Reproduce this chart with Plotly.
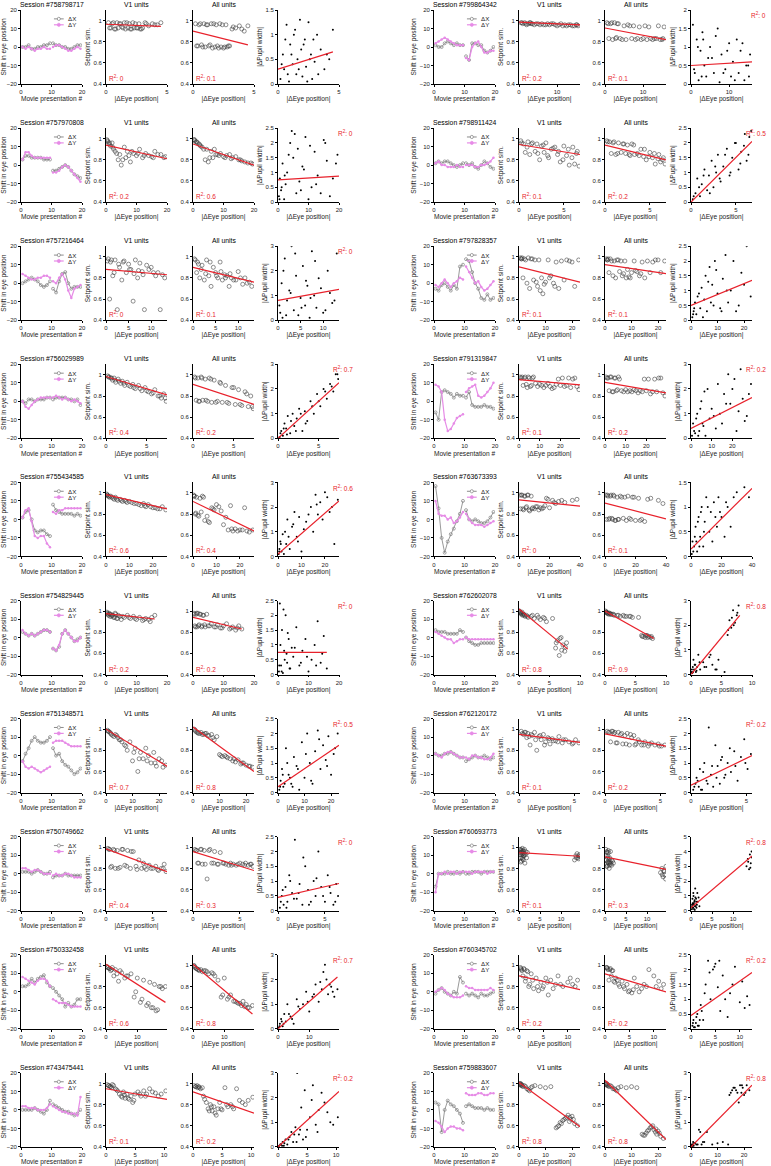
import plotly.graph_objects as go

W, H = 771, 1166

# セッション（左列 10 個 → 右列 10 個）
SESSIONS = [
    "758798717", "757970808", "757216464", "756029989", "755434585",
    "754829445", "751348571", "750749662", "750332458", "743475441",
    "799864342", "798911424", "797828357", "791319847", "763673393",
    "762602078", "762120172", "760693773", "760345702", "759883607",
]

# 眼球位置のシフト（2 ブロック × 10 提示）
EYE_T = [0.5, 1.5, 2.5, 3.5, 4.5, 5.5, 6.5, 7.5, 8.5, 9.5,
         10.5, 11.5, 12.5, 13.5, 14.5, 15.5, 16.5, 17.5, 18.5, 19.5]
EYE_DX = [
    [0, 0, 1, -1, -1, 0, 0, 1, 1, 2, 2, 1, 1, 0, 0, -1, -1, 0, 1, 1],
    [3, 5, 5, 4, 4, 4, 4, 3, 3, 3, -3, -3, -2, -1, 0, -1, -3, -5, -6, -7],
    [0, 1, 2, 3, 2, 1, -1, -2, -1, 1, -3, -5, 1, 5, 6, 0, -3, -2, -2, -2],
    [0, -1, 1, 1, 0, 1, 1, 1, 2, 2, 1, 2, 2, 2, 2, 1, 1, 0, 1, -2],
    [1, 4, 5, 0, -6, -7, -6, -6, -8, -9, 8, 5, 4, 3, 3, 3, 3, 2, 3, 2],
    [3, 2, 1, 2, 1, 2, 3, 4, 4, 3, -6, -7, -5, 2, 4, 2, 0, -2, -1, 0],
    [-3, 1, 4, 8, 10, 8, 7, 7, 8, 10, 4, 0, 1, -3, -5, -6, -8, -10, -9, -7],
    [1, 1, 1, 0, 1, 2, 1, 0, 0, 1, -2, -1, -1, -1, 0, -1, -1, -1, -1, -1],
    [3, 3, 4, 7, 5, 7, 8, 9, 5, 3, 2, 0, -2, -4, -8, -6, -8, -7, -4, -4],
    [0, 0, 0, 0, 1, 0, -1, -2, 0, 5, 3, 2, 1, 0, -1, -1, -2, -3, -2, 0],
    [1, 0, 0, 2, 3, 2, 1, 2, 1, 1, -5, -7, 2, 2, 1, 1, -2, -3, -2, 0],
    [1, 2, 1, 2, 2, 1, 0, -1, 0, 1, 1, 0, 1, -1, -2, 0, 2, 1, -1, -2],
    [-3, -4, -1, 0, -2, -4, -1, -3, 9, 10, 13, 12, 6, 0, -3, -8, -9, -6, -9, -8],
    [-6, -10, 5, 6, 5, 4, 2, 4, 3, 3, 2, 5, -2, -3, -3, -3, -2, -3, -3, -4],
    [18, 6, -10, -18, -12, -8, -5, -1, 3, 10, 5, 0, -1, 0, -1, -2, -2, -1, 1, 4],
    [4, 3, 3, 3, 2, 2, 2, 2, 4, 3, 0, -2, -3, -4, -4, -3, -3, -3, -3, -3],
    [1, 0, 0, 1, 1, 2, 1, 0, -1, -1, -3, -2, -1, 0, -1, -1, 0, -1, -2, -1],
    [-7, 0, 0, 0, 1, 0, 0, 1, 0, 1, 0, 0, 1, 1, 1, 0, 1, 1, 1, 1],
    [-1, 1, 2, 0, -1, -2, 0, -1, 8, 5, -1, -2, -1, -2, -3, -1, -2, -2, -1, 0],
    [4, 3, -12, 0, 5, 3, 2, 0, -2, -7, 2, 3, 2, 1, 1, 1, 0, 1, 0, 0],
]
EYE_DY = [
    [0, -1, 0, -1, -2, -1, -1, 0, -1, -1, 0, 1, 1, 0, -1, -2, -2, -1, 0, -1],
    [3, 7, 7, 5, 4, 4, 4, 4, 4, 4, -4, -4, -3, -1, 0, -1, -3, -5, -7, -9],
    [5, 4, 3, 2, 2, 3, 3, 4, 4, 3, 1, 0, 3, 5, 2, -4, -8, -3, -2, -1],
    [0, -3, -4, -2, 0, 1, 2, 2, 2, 2, 2, 3, 2, 1, 2, 1, 0, 1, 0, -1],
    [1, 5, 6, -1, -9, -10, -9, -9, -13, -15, 4, 3, 5, 5, 6, 6, 6, 6, 6, 6],
    [4, 2, 1, 2, 1, 2, 3, 4, 4, 3, -6, -7, -4, 2, 4, 2, 0, -2, -2, 0],
    [-3, -6, -7, -6, -7, -8, -9, -8, -7, -6, 7, 8, 8, 8, 7, 6, 5, 5, 5, 5],
    [3, 3, 2, 1, 2, 2, 1, 0, 0, 0, -1, 0, -1, -1, 0, 0, -1, -2, -2, -2],
    [8, 7, 6, 5, 4, 6, 7, 7, 6, 3, -4, -5, -6, -6, -6, -7, -8, -8, -8, -8],
    [2, 2, 1, 1, 1, 0, 0, 0, 1, 3, 2, 1, 0, -1, -1, -2, -2, -2, -3, 7],
    [2, 3, 4, 5, 4, 3, 2, 1, 1, 1, -6, -7, 0, 2, 3, 0, -3, -3, -2, -2],
    [1, 2, 0, 0, -1, -1, -1, 0, -1, -1, 0, 0, 0, -1, -1, 0, 0, 1, 2, 4],
    [-1, -2, 0, 2, 0, -2, 0, 1, 3, 2, 9, 6, 3, 0, 1, -2, -4, -3, -1, 1],
    [9, 8, 5, -10, -16, -15, -12, -9, -8, -7, 5, 7, 8, 9, 3, 2, 3, 5, 7, 10],
    [10, 3, 2, 2, 0, 1, -2, -1, 1, 4, 3, 0, -2, -3, -3, -3, -4, -3, -2, -1],
    [3, 2, 1, 0, -1, -1, -3, -2, -1, -1, 0, -1, -1, -1, -1, -1, -1, -1, -1, -1],
    [1, 0, -1, 1, 2, 2, 1, 0, -1, -1, -1, -2, 0, 0, -1, -1, -2, -2, -1, 1],
    [-10, 0, 0, 1, 0, 1, 1, 0, 1, 1, 1, 1, 0, 1, 1, 1, 1, 0, 1, 1],
    [0, 1, 2, 1, -1, -2, -3, -3, -3, -2, 3, 2, 2, 1, 1, 1, 1, 1, 2, 1],
    [-6, -7, -9, -12, -10, -9, -9, -10, -10, -11, 9, 8, 8, 8, 9, 9, 8, 8, 9, 9],
]

# |ΔEye position|（3 つの散布図で共通）
DEYE = [
    [0.2, 0.4, 0.5, 0.7, 0.9, 1.0, 1.2, 1.3, 1.5, 1.6, 1.8, 1.9, 2.0, 2.2, 2.3, 2.5, 2.7, 2.8, 3.0, 3.2, 3.5, 3.8, 4.2, 4.5,
     0.3, 0.6, 0.8, 1.1, 1.4, 1.7, 2.1, 2.4, 2.6, 2.9, 3.3, 4.0],
    [0.3, 0.6, 1, 1.5, 2, 2.5, 3, 4, 4.5, 5, 6, 6.5, 7, 8, 9, 10, 11, 12, 13, 14, 15, 16, 18, 19.5,
     0.5, 1.2, 2.2, 3.5, 5.5, 7.5, 8.5, 10.5, 12.5, 15.5, 17, 19],
    [0.5, 0.8, 1, 1.5, 2, 2.5, 3, 3.5, 4, 4.5, 5, 5.5, 6, 6.5, 7, 7.5, 8, 8.5, 9, 10, 11, 11.5, 12, 13,
     0.3, 1.2, 1.8, 2.8, 3.8, 5.2, 6.2, 7.2, 8.2, 9.5, 10.5, 12.5],
    [0.2, 0.4, 0.6, 0.8, 1, 1.2, 1.5, 1.8, 2, 2.3, 2.6, 3, 3.3, 3.6, 4, 4.4, 4.8, 5.2, 5.6, 6, 6.4, 6.8, 7.1, 7.4,
     0.3, 0.7, 1.1, 1.6, 2.2, 2.8, 3.4, 4.2, 5, 5.8, 6.6, 7.3],
    [0.3, 0.6, 1, 1.5, 2, 3, 3.5, 4, 5, 6, 7, 8, 9, 10, 12, 14, 15, 16, 17, 18, 20, 22, 24, 25.5,
     0.5, 1.2, 2.5, 4.5, 6.5, 8.5, 11, 13, 16.5, 19, 21, 23],
    [0.3, 0.6, 1, 1.3, 1.6, 2, 2.5, 3, 3.5, 4, 4.5, 5, 6, 7, 8, 9, 10, 11, 12, 13, 14, 14.5, 15, 16,
     0.4, 0.8, 1.2, 1.8, 2.2, 2.8, 3.2, 3.8, 5.5, 7.5, 9.5, 12.5],
    [0.5, 1, 1.5, 2, 3, 4, 5, 6, 7, 8, 9, 10, 11, 12, 13, 14, 15, 16, 17, 18, 19, 20, 21, 22.5,
     0.8, 1.8, 2.5, 3.5, 4.5, 5.5, 7.5, 10.5, 12.5, 15.5, 18.5, 21.5],
    [0.2, 0.4, 0.6, 0.8, 1, 1.2, 1.5, 1.8, 2, 2.3, 2.6, 2.9, 3.2, 3.5, 3.8, 4, 4.3, 4.6, 5, 5.3, 5.6, 5.9, 6.2, 6.4,
     0.3, 0.5, 0.9, 1.3, 1.7, 2.2, 2.7, 3.3, 4.1, 4.8, 5.5, 6.1],
    [0.3, 0.6, 1, 1.5, 2, 2.5, 3, 4, 5, 6, 7, 8, 9, 10, 11, 12, 13, 14, 15, 15.5, 16, 17, 18, 19,
     0.5, 1.2, 1.8, 3.5, 4.5, 6.5, 9.5, 11.5, 13.5, 14.5, 16.5, 17.5],
    [0.2, 0.5, 0.8, 1, 1.3, 1.6, 2, 2.3, 2.6, 3, 3.3, 3.6, 4, 4.3, 4.6, 5, 5.5, 6, 6.5, 7, 7.5, 8, 9, 10.3,
     0.4, 0.7, 1.1, 1.8, 2.8, 3.2, 3.8, 4.8, 5.8, 6.8, 8.5, 9.5],
    [0.5, 1, 1.5, 2, 2.5, 3, 3.5, 4, 5, 5.5, 6, 7, 7.5, 8, 9, 10, 10.5, 11, 12, 12.5, 13, 14, 15, 15.5,
     0.8, 1.8, 2.8, 4.5, 6.5, 8.5, 9.5, 11.5, 13.5, 14.5, 15.2, 3.2],
    [0.2, 0.5, 0.7, 1, 1.2, 1.5, 1.8, 2, 2.3, 2.5, 2.8, 3, 3.3, 3.6, 4, 4.3, 4.6, 5, 5.3, 5.6, 6, 6.2, 6.5, 6.7,
     0.3, 0.9, 1.4, 2.1, 2.7, 3.2, 3.8, 4.4, 4.9, 5.5, 5.9, 6.4],
    [0.5, 1, 1.5, 2, 3, 3.5, 4, 5, 5.5, 6, 7, 8, 8.5, 9, 10, 11, 12, 13, 14, 15, 17, 19, 21, 22.5,
     0.8, 1.2, 2.5, 4.5, 6.5, 7.5, 9.5, 11.5, 13.5, 16, 18, 20],
    [0.5, 1, 2, 3, 4, 5, 6, 7, 8, 9, 10, 12, 13, 14, 15, 16, 18, 19, 20, 22, 24, 25, 27, 29,
     1.5, 2.5, 3.5, 4.5, 5.5, 6.5, 11, 17, 21, 23, 26, 28],
    [0.5, 1, 2, 3, 4, 5, 6, 7, 8, 9, 10, 12, 13, 14, 15, 17, 18, 20, 22, 24, 26, 30, 35, 38,
     1.5, 2.5, 3.5, 4.5, 5.5, 6.5, 8.5, 11, 16, 19, 23, 28],
    [0.1, 0.2, 0.3, 0.4, 0.5, 0.6, 0.8, 1, 1.2, 1.5, 2, 2.5, 3, 3.5, 4, 4.5, 5.5, 6, 6.3, 6.6, 6.9, 7.2, 7.5, 7.8,
     0.15, 0.35, 0.7, 0.9, 1.4, 2.2, 3.2, 4.2, 6.1, 6.7, 7.0, 7.6],
    [0.2, 0.4, 0.5, 0.7, 0.8, 1, 1.2, 1.4, 1.6, 1.8, 2, 2.2, 2.4, 2.6, 2.8, 3, 3.3, 3.6, 3.9, 4.2, 4.5, 4.8, 5.1, 5.4,
     0.3, 0.6, 0.9, 1.1, 1.5, 1.9, 2.3, 2.7, 3.1, 3.5, 4.0, 4.9],
    [0.2, 0.3, 0.4, 0.5, 0.6, 0.7, 0.8, 0.9, 1, 1.1, 1.2, 1.3, 1.4, 1.5, 1.6, 1.8, 2, 13.2, 13.5, 13.8, 14, 14.2, 14.4, 14.5,
     0.25, 0.35, 0.45, 0.55, 0.65, 0.75, 0.85, 0.95, 1.05, 1.25, 13.6, 14.1],
    [0.3, 0.5, 0.8, 1, 1.3, 1.6, 2, 2.5, 3, 3.5, 4, 4.5, 5, 5.5, 6, 6.5, 7, 7.5, 8, 9, 10, 10.5, 11, 12,
     0.4, 0.6, 1.1, 1.4, 1.8, 2.2, 2.8, 3.8, 4.8, 5.8, 8.5, 11.5],
    [0.3, 0.5, 0.8, 1, 1.5, 2, 3, 4, 5, 6, 8, 10, 12, 14, 15, 16, 17, 18, 18.5, 19, 19.5, 20, 21, 22,
     0.4, 0.6, 1.2, 2.5, 3.5, 4.5, 14.5, 15.5, 16.5, 17.5, 19.2, 20.5],
]
SIM_V1 = [
    [0.98, 0.93, 0.97, 0.92, 0.98, 0.93, 0.97, 0.94, 0.98, 0.92, 0.93, 0.97, 0.92, 0.98, 0.93, 0.93, 0.97, 0.92, 0.93, 0.98, 0.95, 0.97, 0.96, 0.98,
     0.93, 0.98, 0.92, 0.97, 0.93, 0.98, 0.92, 0.97, 0.93, 0.92, 0.97, 0.96],
    [0.99, 0.97, 0.95, 0.93, 0.96, 0.90, 0.88, 0.80, 0.85, 0.75, 0.92, 0.82, 0.88, 0.78, 0.86, 0.84, 0.90, 0.82, 0.86, 0.84, 0.83, 0.88, 0.85, 0.83,
     0.98, 0.96, 0.92, 0.86, 0.80, 0.84, 0.88, 0.86, 0.84, 0.82, 0.85, 0.82],
    [0.98, 0.60, 0.95, 0.82, 0.97, 0.50, 0.90, 0.78, 0.96, 0.85, 0.93, 0.88, 0.58, 0.97, 0.80, 0.94, 0.86, 0.50, 0.92, 0.90, 0.82, 0.85, 0.50, 0.80,
     0.96, 0.97, 0.85, 0.93, 0.95, 0.88, 0.84, 0.87, 0.83, 0.88, 0.85, 0.83],
    [0.99, 0.98, 0.97, 0.95, 0.97, 0.93, 0.96, 0.92, 0.94, 0.90, 0.93, 0.89, 0.91, 0.87, 0.90, 0.85, 0.88, 0.84, 0.82, 0.86, 0.80, 0.78, 0.82, 0.75,
     0.98, 0.97, 0.95, 0.94, 0.92, 0.90, 0.88, 0.87, 0.85, 0.83, 0.80, 0.78],
    [0.99, 0.98, 0.97, 0.96, 0.97, 0.95, 0.94, 0.96, 0.93, 0.94, 0.92, 0.93, 0.91, 0.92, 0.90, 0.89, 0.88, 0.90, 0.87, 0.89, 0.86, 0.85, 0.87, 0.84,
     0.98, 0.97, 0.96, 0.94, 0.93, 0.92, 0.91, 0.90, 0.88, 0.87, 0.86, 0.85],
    [0.99, 0.97, 0.98, 0.95, 0.97, 0.96, 0.94, 0.98, 0.93, 0.96, 0.95, 0.92, 0.94, 0.96, 0.93, 0.95, 0.92, 0.94, 0.91, 0.93, 0.92, 0.90, 0.94, 0.96,
     0.98, 0.96, 0.97, 0.95, 0.96, 0.94, 0.97, 0.93, 0.95, 0.94, 0.93, 0.92],
    [0.99, 0.98, 0.97, 0.95, 0.93, 0.94, 0.90, 0.88, 0.85, 0.80, 0.88, 0.70, 0.82, 0.60, 0.78, 0.72, 0.82, 0.75, 0.68, 0.78, 0.65, 0.72, 0.70, 0.66,
     0.98, 0.96, 0.94, 0.95, 0.92, 0.90, 0.84, 0.78, 0.72, 0.70, 0.68, 0.64],
    [0.99, 0.98, 0.82, 0.98, 0.80, 0.97, 0.81, 0.98, 0.83, 0.97, 0.80, 0.96, 0.82, 0.88, 0.80, 0.85, 0.79, 0.83, 0.80, 0.82, 0.78, 0.80, 0.84, 0.77,
     0.98, 0.81, 0.97, 0.80, 0.98, 0.82, 0.96, 0.79, 0.81, 0.80, 0.79, 0.80],
    [0.99, 0.98, 0.97, 0.95, 0.98, 0.90, 0.96, 0.85, 0.93, 0.88, 0.90, 0.92, 0.70, 0.88, 0.65, 0.86, 0.62, 0.84, 0.60, 0.82, 0.57, 0.80, 0.78, 0.80,
     0.98, 0.97, 0.96, 0.92, 0.95, 0.90, 0.75, 0.68, 0.64, 0.60, 0.58, 0.80],
    [0.99, 0.98, 0.97, 0.96, 0.98, 0.95, 0.93, 0.90, 0.88, 0.92, 0.86, 0.90, 0.85, 0.88, 0.82, 0.90, 0.92, 0.88, 0.93, 0.90, 0.95, 0.92, 0.88, 0.93,
     0.98, 0.97, 0.99, 0.94, 0.87, 0.89, 0.86, 0.84, 0.90, 0.88, 0.91, 0.90],
    [0.98, 0.97, 0.98, 0.96, 0.97, 0.98, 0.97, 0.96, 0.97, 0.96, 0.97, 0.96, 0.97, 0.96, 0.97, 0.95, 0.96, 0.97, 0.96, 0.95, 0.96, 0.95, 0.96, 0.95,
     0.98, 0.97, 0.98, 0.97, 0.96, 0.97, 0.96, 0.95, 0.96, 0.95, 0.96, 0.97],
    [0.98, 0.95, 0.87, 0.97, 0.85, 0.96, 0.88, 0.95, 0.80, 0.93, 0.87, 0.96, 0.82, 0.90, 0.92, 0.85, 0.78, 0.93, 0.84, 0.75, 0.92, 0.76, 0.88, 0.74,
     0.96, 0.92, 0.95, 0.86, 0.94, 0.84, 0.91, 0.88, 0.80, 0.90, 0.82, 0.86],
    [0.99, 0.98, 0.80, 0.98, 0.75, 0.99, 0.70, 0.98, 0.78, 0.97, 0.72, 0.68, 0.80, 0.65, 0.76, 0.97, 0.82, 0.75, 0.95, 0.70, 0.78, 0.96, 0.72, 0.97,
     0.98, 0.99, 0.97, 0.98, 0.76, 0.97, 0.74, 0.80, 0.72, 0.96, 0.97, 0.95],
    [0.98, 0.97, 0.90, 0.98, 0.88, 0.97, 0.90, 0.98, 0.92, 0.89, 0.91, 0.88, 0.90, 0.92, 0.89, 0.87, 0.91, 0.96, 0.90, 0.89, 0.97, 0.88, 0.97, 0.86,
     0.98, 0.97, 0.91, 0.98, 0.89, 0.97, 0.90, 0.88, 0.97, 0.90, 0.96, 0.89],
    [0.98, 0.85, 0.98, 0.84, 0.97, 0.87, 0.98, 0.83, 0.97, 0.86, 0.85, 0.87, 0.84, 0.86, 0.85, 0.88, 0.95, 0.86, 0.93, 0.90, 0.92, 0.91, 0.93, 0.94,
     0.98, 0.85, 0.97, 0.86, 0.98, 0.84, 0.85, 0.87, 0.86, 0.94, 0.91, 0.93],
    [1.00, 0.99, 0.98, 0.97, 0.99, 0.96, 0.97, 0.95, 0.96, 0.94, 0.95, 0.93, 0.96, 0.92, 0.94, 0.90, 0.93, 0.65, 0.72, 0.58, 0.75, 0.68, 0.62, 0.70,
     0.99, 0.98, 0.97, 0.96, 0.95, 0.96, 0.94, 0.93, 0.70, 0.74, 0.63, 0.66],
    [0.98, 0.95, 0.97, 0.92, 0.96, 0.85, 0.94, 0.97, 0.80, 0.93, 0.90, 0.95, 0.88, 0.92, 0.86, 0.91, 0.89, 0.93, 0.87, 0.90, 0.88, 0.86, 0.90, 0.87,
     0.96, 0.97, 0.93, 0.95, 0.90, 0.94, 0.85, 0.91, 0.89, 0.88, 0.90, 0.87],
    [0.98, 0.93, 0.86, 0.97, 0.95, 0.90, 0.99, 0.94, 0.88, 0.96, 0.92, 0.98, 0.85, 0.93, 0.96, 0.90, 0.95, 0.88, 0.92, 0.94, 0.90, 0.89, 0.93, 0.91,
     0.95, 0.90, 0.98, 0.87, 0.93, 0.96, 0.89, 0.97, 0.92, 0.94, 0.90, 0.92],
    [0.98, 0.96, 0.90, 0.97, 0.85, 0.95, 0.80, 0.92, 0.78, 0.88, 0.76, 0.84, 0.80, 0.88, 0.72, 0.86, 0.78, 0.82, 0.90, 0.80, 0.84, 0.88, 0.82, 0.86,
     0.97, 0.95, 0.96, 0.88, 0.94, 0.82, 0.86, 0.80, 0.78, 0.84, 0.82, 0.80],
    [1.00, 0.99, 0.98, 0.99, 0.97, 0.98, 0.95, 0.93, 0.97, 0.98, 0.97, 0.96, 0.97, 0.58, 0.60, 0.62, 0.66, 0.68, 0.70, 0.64, 0.66, 0.69, 0.62, 0.60,
     0.99, 1.00, 0.98, 0.97, 0.94, 0.96, 0.59, 0.63, 0.65, 0.67, 0.68, 0.66],
]
SIM_ALL = [
    [0.97, 0.76, 0.96, 0.77, 0.97, 0.75, 0.96, 0.76, 0.97, 0.74, 0.75, 0.96, 0.76, 0.97, 0.75, 0.74, 0.96, 0.75, 0.76, 0.92, 0.93, 0.95, 0.90, 0.95,
     0.76, 0.97, 0.75, 0.96, 0.77, 0.97, 0.74, 0.96, 0.75, 0.76, 0.94, 0.92],
    [0.99, 0.98, 0.97, 0.96, 0.95, 0.93, 0.92, 0.80, 0.90, 0.78, 0.88, 0.82, 0.90, 0.85, 0.86, 0.83, 0.84, 0.85, 0.82, 0.83, 0.80, 0.79, 0.77, 0.76,
     0.99, 0.97, 0.94, 0.90, 0.82, 0.85, 0.84, 0.82, 0.81, 0.80, 0.78, 0.77],
    [0.97, 0.85, 0.95, 0.80, 0.92, 0.78, 0.97, 0.82, 0.72, 0.90, 0.85, 0.80, 0.95, 0.78, 0.83, 0.82, 0.72, 0.80, 0.78, 0.86, 0.74, 0.80, 0.75, 0.72,
     0.98, 0.93, 0.88, 0.84, 0.95, 0.82, 0.86, 0.80, 0.84, 0.78, 0.80, 0.76],
    [0.98, 0.76, 0.97, 0.75, 0.98, 0.76, 0.96, 0.75, 0.97, 0.74, 0.95, 0.75, 0.93, 0.74, 0.90, 0.73, 0.88, 0.72, 0.86, 0.71, 0.84, 0.70, 0.80, 0.68,
     0.97, 0.75, 0.97, 0.76, 0.96, 0.74, 0.92, 0.74, 0.88, 0.72, 0.82, 0.70],
    [0.98, 0.97, 0.80, 0.96, 0.79, 0.95, 0.82, 0.97, 0.74, 0.78, 0.72, 0.86, 0.84, 0.89, 0.83, 0.77, 0.65, 0.88, 0.64, 0.66, 0.65, 0.86, 0.63, 0.65,
     0.97, 0.81, 0.78, 0.96, 0.73, 0.85, 0.87, 0.70, 0.66, 0.64, 0.65, 0.64],
    [0.98, 0.86, 0.97, 0.85, 0.98, 0.87, 0.97, 0.86, 0.96, 0.85, 0.97, 0.86, 0.88, 0.85, 0.87, 0.84, 0.86, 0.88, 0.83, 0.85, 0.82, 0.84, 0.86, 0.83,
     0.97, 0.85, 0.98, 0.86, 0.97, 0.85, 0.96, 0.87, 0.86, 0.85, 0.84, 0.84],
    [1.00, 0.98, 0.97, 0.96, 0.97, 0.95, 0.96, 0.94, 0.95, 0.90, 0.93, 0.76, 0.74, 0.75, 0.73, 0.72, 0.70, 0.69, 0.71, 0.67, 0.68, 0.66, 0.65, 0.64,
     0.99, 0.97, 0.96, 0.95, 0.96, 0.94, 0.92, 0.75, 0.74, 0.72, 0.68, 0.65],
    [0.98, 0.97, 0.85, 0.98, 0.84, 0.97, 0.70, 0.98, 0.85, 0.96, 0.84, 0.95, 0.85, 0.84, 0.83, 0.85, 0.84, 0.83, 0.85, 0.84, 0.85, 0.83, 0.84, 0.82,
     0.97, 0.85, 0.98, 0.84, 0.97, 0.85, 0.84, 0.85, 0.83, 0.84, 0.83, 0.84],
    [1.00, 0.98, 0.97, 0.96, 0.95, 0.96, 0.94, 0.95, 0.92, 0.93, 0.90, 0.86, 0.70, 0.88, 0.68, 0.72, 0.66, 0.65, 0.64, 0.62, 0.66, 0.63, 0.60, 0.62,
     0.99, 0.97, 0.96, 0.95, 0.94, 0.92, 0.72, 0.70, 0.66, 0.64, 0.61, 0.60],
    [0.98, 0.97, 0.96, 0.97, 0.95, 0.96, 0.85, 0.82, 0.76, 0.80, 0.74, 0.78, 0.70, 0.76, 0.82, 0.75, 0.96, 0.78, 0.80, 0.76, 0.95, 0.84, 0.80, 0.87,
     0.97, 0.98, 0.96, 0.88, 0.74, 0.78, 0.72, 0.76, 0.80, 0.78, 0.82, 0.84],
    [0.98, 0.83, 0.97, 0.82, 0.98, 0.84, 0.97, 0.83, 0.95, 0.82, 0.96, 0.83, 0.95, 0.82, 0.94, 0.83, 0.95, 0.82, 0.83, 0.82, 0.83, 0.95, 0.82, 0.94,
     0.97, 0.98, 0.83, 0.82, 0.95, 0.83, 0.82, 0.94, 0.83, 0.82, 0.83, 0.97],
    [0.98, 0.97, 0.86, 0.97, 0.85, 0.96, 0.87, 0.95, 0.86, 0.94, 0.84, 0.95, 0.85, 0.86, 0.90, 0.83, 0.80, 0.87, 0.82, 0.76, 0.85, 0.78, 0.82, 0.76,
     0.97, 0.96, 0.86, 0.95, 0.85, 0.94, 0.84, 0.90, 0.83, 0.86, 0.81, 0.80],
    [0.98, 0.97, 0.85, 0.98, 0.82, 0.96, 0.80, 0.97, 0.86, 0.96, 0.84, 0.80, 0.88, 0.81, 0.85, 0.96, 0.86, 0.82, 0.95, 0.80, 0.85, 0.97, 0.85, 0.96,
     0.97, 0.98, 0.96, 0.97, 0.82, 0.96, 0.80, 0.87, 0.84, 0.96, 0.95, 0.97],
    [0.98, 0.97, 0.85, 0.98, 0.84, 0.97, 0.86, 0.96, 0.85, 0.84, 0.86, 0.85, 0.84, 0.86, 0.85, 0.83, 0.84, 0.96, 0.85, 0.82, 0.96, 0.84, 0.97, 0.80,
     0.97, 0.98, 0.84, 0.97, 0.85, 0.98, 0.84, 0.85, 0.96, 0.84, 0.97, 0.83],
    [0.98, 0.75, 0.97, 0.76, 0.98, 0.75, 0.97, 0.74, 0.96, 0.75, 0.97, 0.76, 0.96, 0.74, 0.97, 0.75, 0.96, 0.74, 0.95, 0.75, 0.73, 0.95, 0.93, 0.90,
     0.98, 0.75, 0.97, 0.76, 0.98, 0.74, 0.75, 0.96, 0.76, 0.96, 0.74, 0.94],
    [1.00, 0.99, 0.99, 0.98, 0.98, 0.97, 0.98, 0.97, 0.97, 0.96, 0.96, 0.95, 0.96, 0.95, 0.95, 0.94, 0.94, 0.77, 0.76, 0.75, 0.77, 0.76, 0.75, 0.74,
     0.99, 0.98, 0.98, 0.97, 0.97, 0.96, 0.95, 0.95, 0.76, 0.77, 0.75, 0.76],
    [0.98, 0.97, 0.88, 0.98, 0.96, 0.87, 0.97, 0.95, 0.86, 0.94, 0.96, 0.85, 0.92, 0.94, 0.86, 0.90, 0.85, 0.88, 0.84, 0.87, 0.85, 0.86, 0.84, 0.85,
     0.97, 0.98, 0.97, 0.87, 0.96, 0.86, 0.95, 0.85, 0.88, 0.85, 0.86, 0.84],
    [0.98, 0.88, 0.82, 0.95, 0.86, 0.92, 0.97, 0.85, 0.80, 0.90, 0.86, 0.96, 0.84, 0.88, 0.83, 0.87, 0.85, 0.76, 0.80, 0.72, 0.78, 0.74, 0.70, 0.82,
     0.92, 0.84, 0.96, 0.82, 0.90, 0.86, 0.95, 0.88, 0.83, 0.85, 0.74, 0.77],
    [0.98, 0.97, 0.86, 0.96, 0.90, 0.95, 0.84, 0.86, 0.80, 0.85, 0.78, 0.82, 0.76, 0.74, 0.88, 0.80, 0.75, 0.78, 0.82, 0.96, 0.90, 0.80, 0.85, 0.82,
     0.98, 0.96, 0.97, 0.95, 0.85, 0.88, 0.82, 0.80, 0.75, 0.77, 0.80, 0.78],
    [1.00, 0.99, 0.98, 0.99, 0.97, 0.98, 0.95, 0.94, 0.96, 0.97, 0.96, 0.97, 0.96, 0.52, 0.51, 0.55, 0.58, 0.60, 0.56, 0.54, 0.52, 0.55, 0.50, 0.48,
     0.99, 1.00, 0.98, 0.97, 0.95, 0.93, 0.51, 0.53, 0.56, 0.59, 0.57, 0.53],
]
DPUPIL = [
    [0.1, 0.6, 0.3, 1.2, 0.05, 0.8, 0.4, 1.0, 0.2, 0.5, 1.3, 0.7, 0.15, 0.9, 0.35, 1.25, 0.6, 0.1, 0.45, 1.0, 0.7, 0.3, 0.5, 1.1,
     0.4, 0.9, 0.2, 0.6, 1.1, 0.3, 0.8, 0.05, 0.5, 0.9, 0.2, 0.6],
    [0.2, 0.8, 0.4, 1.3, 0.1, 0.6, 1.0, 2.0, 2.4, 1.5, 0.3, 1.8, 0.7, 1.2, 2.2, 0.1, 0.5, 1.7, 0.9, 0.3, 2.1, 1.4, 0.8, 1.6,
     0.1, 0.5, 0.9, 1.6, 2.3, 0.4, 1.1, 1.9, 0.6, 2.0, 0.2, 1.3],
    [0.3, 1.5, 0.1, 2.5, 0.8, 1.2, 3.0, 0.4, 1.8, 0.2, 0.9, 2.2, 0.6, 1.4, 0.1, 2.8, 1.0, 0.5, 1.7, 0.3, 2.0, 1.1, 0.7, 2.7,
     0.6, 2.0, 0.2, 1.1, 2.7, 0.5, 1.6, 0.9, 2.4, 1.3, 0.4, 0.8],
    [0.05, 0.3, 0.1, 0.6, 0.4, 0.9, 0.2, 1.0, 0.5, 0.8, 1.2, 0.3, 1.1, 0.7, 1.5, 1.0, 1.8, 1.3, 2.0, 1.6, 2.2, 1.9, 2.6, 2.4,
     0.2, 0.4, 0.15, 0.7, 0.3, 1.0, 0.6, 1.3, 1.5, 1.9, 2.1, 2.6],
    [0.1, 0.3, 0.6, 0.2, 0.9, 1.0, 0.5, 1.5, 0.3, 1.2, 1.8, 0.8, 1.6, 0.2, 1.4, 2.0, 1.0, 2.5, 1.7, 2.2, 2.6, 1.8, 0.5, 2.3,
     0.2, 0.5, 0.1, 0.8, 1.3, 0.6, 1.1, 1.7, 2.1, 1.5, 2.4, 2.0],
    [0.1, 2.4, 0.3, 1.5, 0.05, 0.8, 2.0, 0.4, 1.2, 0.2, 0.9, 0.6, 1.6, 0.3, 0.8, 1.2, 0.1, 0.5, 1.0, 1.8, 0.4, 0.7, 1.3, 0.2,
     0.3, 1.0, 0.1, 2.2, 0.5, 0.7, 1.4, 0.2, 0.9, 0.4, 0.6, 0.3],
    [0.1, 0.4, 0.8, 0.2, 1.5, 0.6, 0.3, 1.2, 0.9, 0.1, 1.7, 0.5, 2.0, 1.0, 0.3, 1.4, 2.1, 0.8, 1.6, 1.1, 1.9, 0.6, 1.3, 2.0,
     0.2, 0.6, 0.3, 1.0, 0.5, 0.2, 0.8, 1.3, 0.4, 1.8, 0.9, 1.5],
    [0.1, 0.5, 0.2, 0.8, 0.3, 1.2, 0.6, 2.4, 0.4, 0.9, 0.2, 1.5, 0.7, 0.3, 1.0, 0.5, 2.0, 0.8, 0.3, 1.2, 0.6, 0.2, 0.9, 0.5,
     0.3, 0.7, 0.1, 1.0, 0.4, 0.6, 1.8, 0.2, 1.1, 0.5, 0.8, 0.3],
    [0.05, 0.2, 0.4, 0.1, 0.6, 0.3, 1.0, 0.5, 0.2, 1.2, 0.8, 1.0, 1.5, 0.7, 1.3, 1.8, 1.1, 1.6, 2.6, 2.0, 1.4, 1.7, 1.3, 1.6,
     0.1, 0.3, 0.2, 0.6, 0.4, 0.9, 1.1, 1.4, 1.9, 2.3, 1.8, 1.5],
    [0.05, 0.1, 0.2, 0.05, 0.3, 0.1, 0.4, 0.6, 0.2, 0.8, 3.0, 0.5, 1.6, 0.3, 2.3, 0.7, 1.2, 2.5, 0.9, 1.5, 2.2, 1.8, 1.0, 1.2,
     0.1, 0.05, 0.15, 0.3, 0.5, 0.2, 0.7, 0.4, 1.9, 0.6, 1.4, 0.9],
    [1.6, 0.3, 1.2, 0.1, 0.9, 1.4, 0.5, 0.2, 1.0, 0.7, 0.3, 1.5, 0.05, 0.8, 0.4, 1.1, 0.2, 0.6, 1.2, 0.3, 0.9, 0.1, 0.5, 0.8,
     0.4, 1.0, 0.2, 0.7, 1.3, 0.3, 0.9, 0.1, 1.1, 0.5, 0.2, 1.2],
    [0.1, 0.3, 0.8, 0.2, 0.6, 1.1, 0.4, 0.9, 1.4, 0.5, 1.0, 1.6, 0.7, 1.2, 1.8, 0.9, 1.5, 2.0, 1.1, 1.7, 2.3, 1.4, 2.2, 2.4,
     0.2, 0.5, 0.9, 0.3, 1.2, 0.8, 1.6, 1.0, 2.0, 1.3, 1.9, 1.6],
    [0.1, 0.3, 0.6, 0.2, 0.9, 0.4, 1.1, 0.7, 1.5, 0.3, 1.8, 1.2, 0.5, 2.0, 0.9, 0.4, 1.4, 2.2, 0.6, 1.0, 0.3, 1.6, 2.5, 0.8,
     0.2, 0.4, 0.8, 0.1, 1.3, 0.6, 1.7, 0.3, 1.0, 2.0, 0.5, 1.2],
    [0.1, 0.6, 0.2, 1.0, 0.3, 1.5, 0.5, 0.1, 2.0, 0.8, 1.2, 0.4, 2.2, 1.0, 0.6, 1.8, 2.6, 1.4, 2.0, 0.3, 2.8, 1.6, 0.9, 2.2,
     0.3, 0.8, 0.1, 1.2, 0.6, 1.9, 0.9, 1.4, 2.4, 1.1, 0.7, 1.8],
    [0.05, 0.3, 0.2, 0.6, 0.1, 0.8, 0.4, 1.0, 0.2, 0.7, 1.2, 0.5, 0.9, 0.3, 1.1, 0.6, 1.2, 0.8, 0.4, 1.0, 0.6, 1.3, 1.4, 1.2,
     0.1, 0.4, 0.3, 0.7, 0.2, 0.9, 0.5, 1.0, 0.8, 0.9, 1.1, 1.2],
    [0.1, 0.05, 0.3, 0.6, 0.2, 0.4, 0.1, 0.3, 0.8, 0.2, 0.5, 0.3, 0.7, 0.4, 0.2, 0.6, 0.1, 1.6, 2.2, 1.9, 2.6, 2.1, 2.4, 2.8,
     0.2, 0.1, 0.4, 0.15, 0.5, 0.3, 0.8, 0.2, 1.8, 2.3, 2.0, 2.5],
    [0.1, 0.3, 0.5, 0.2, 0.8, 0.1, 1.0, 0.4, 2.2, 0.6, 0.2, 1.6, 0.9, 0.3, 1.2, 0.5, 1.0, 0.7, 1.4, 0.4, 1.2, 1.8, 0.8, 1.3,
     0.2, 0.4, 0.1, 0.7, 0.3, 0.9, 0.5, 1.1, 0.6, 1.5, 0.9, 1.0],
    [0.1, 0.3, 0.5, 0.2, 1.0, 0.4, 0.6, 0.05, 1.5, 0.3, 0.8, 0.2, 0.4, 1.2, 0.6, 0.9, 0.3, 3.0, 3.5, 2.8, 3.8, 3.2, 4.0, 3.6,
     0.4, 0.8, 0.2, 1.2, 0.5, 0.1, 0.7, 0.3, 0.9, 0.6, 3.3, 2.9],
    [0.1, 0.3, 0.05, 0.2, 0.5, 0.1, 0.8, 0.3, 1.5, 2.3, 1.0, 2.0, 2.2, 1.4, 0.6, 1.8, 1.0, 0.4, 1.2, 2.1, 0.9, 1.6, 0.7, 0.8,
     0.2, 0.05, 0.4, 0.1, 0.3, 0.6, 1.2, 1.9, 2.1, 2.3, 1.5, 1.1],
    [0.05, 0.1, 0.2, 0.05, 0.15, 0.1, 0.7, 0.1, 0.2, 0.6, 0.1, 0.15, 0.2, 0.1, 2.2, 2.4, 2.3, 1.8, 2.5, 2.2, 2.4, 2.1, 2.5, 2.3,
     0.1, 0.05, 0.15, 0.1, 0.6, 0.2, 2.1, 2.3, 2.4, 2.2, 2.5, 2.2],
]

# 軸範囲・目盛
XMAX = [5, 20, 13.5, 7.5, 26, 20, 23, 6.5, 19.5, 10.5,
        16, 6.8, 23, 29.5, 40, 10, 5.5, 14.5, 12.5, 23]
XDTICK = [5, 10, 5, 5, 10, 10, 10, 5, 10, 5,
          10, 5, 10, 10, 20, 5, 5, 5, 5, 10]
PUPIL_YMAX = [1.5, 2.5, 3, 3, 3, 2.5, 2.5, 2.5, 3, 3,
              2, 2.5, 2.5, 3, 1.5, 3, 2.5, 5, 2.5, 3]
PUPIL_DTICK = [0.5, 0.5, 1, 1, 1, 0.5, 0.5, 0.5, 1, 1,
               0.5, 0.5, 0.5, 1, 0.5, 1, 0.5, 1, 0.5, 1]

# 回帰直線（x=0 と x=FIT_XEND での値）
FIT_XEND = [4.5, 20, 13.5, 7.5, 26, 16, 23, 6.5, 19, 10.5,
            16, 6.8, 23, 29.5, 40, 8, 5.5, 14.5, 12.5, 23]
FIT_V1 = [[0.965, 0.945], [0.94, 0.81], [0.88, 0.83], [0.985, 0.81], [0.985, 0.85],
          [0.975, 0.925], [1.0, 0.65], [0.985, 0.77], [1.01, 0.65], [0.95, 0.85],
          [0.985, 0.96], [0.945, 0.85], [0.905, 0.76], [0.955, 0.905], [0.935, 0.875],
          [1.02, 0.64], [0.95, 0.875], [0.95, 0.915], [0.9, 0.77], [1.01, 0.59]]
FIT_ALL = [[0.90, 0.77], [0.95, 0.75], [0.90, 0.76], [0.91, 0.72], [0.92, 0.64],
           [0.94, 0.83], [1.02, 0.60], [0.96, 0.78], [1.01, 0.54], [0.92, 0.72],
           [0.93, 0.82], [0.94, 0.80], [0.925, 0.84], [0.93, 0.83], [0.905, 0.755],
           [1.0, 0.74], [0.955, 0.84], [0.91, 0.79], [0.92, 0.75], [1.03, 0.47]]
FIT_PUPIL = [[0.3, 0.65], [0.75, 0.88], [0.8, 1.25], [0.0, 2.25], [0.1, 2.25],
             [0.75, 0.75], [0.2, 1.6], [0.45, 0.92], [0.0, 2.1], [0.0, 2.25],
             [0.5, 0.6], [0.0, 2.05], [0.5, 1.35], [0.4, 1.65], [0.15, 1.38],
             [0.0, 2.4], [0.25, 1.25], [0.2, 3.7], [0.45, 1.9], [0.0, 2.5]]

R2_V1 = [0, 0.2, 0, 0.4, 0.6, 0.2, 0.7, 0.4, 0.6, 0.1,
         0.2, 0.1, 0.1, 0.1, 0, 0.8, 0.1, 0.1, 0.2, 0.8]
R2_ALL = [0.1, 0.6, 0.1, 0.2, 0.4, 0.2, 0.8, 0.3, 0.8, 0.2,
          0.1, 0.2, 0.1, 0.2, 0.1, 0.9, 0.2, 0.3, 0.2, 0.8]
R2_PUPIL = [None, 0, 0, 0.7, 0.6, 0, 0.5, 0, 0.7, 0.2,
            0, 0.5, None, 0.2, None, 0.8, 0.2, 0.8, 0.2, 0.8]

# ---- 体裁 ----
FONT = "Liberation Sans, Arial, sans-serif"
TXT = "#222222"
RED = "#e8212b"
GRAY = "#7f7f7f"
VIOLET = "#e68be6"
PANEL_X0 = [[21, 106, 193, 278], [434, 519, 605, 691]]
PANEL_W = 61
PANEL_H = 74
ROW_TOP0 = 10
ROW_STEP = 118.1


def ref(kind, k):
    return kind if k == 1 else f"{kind}{k}"


def axname(kind, k):
    return f"{kind}axis" if k == 1 else f"{kind}axis{k}"


fig = go.Figure()
layout = {}
annotations = []
shapes = []

axis_common = dict(
    showgrid=False, zeroline=False, showline=True, linecolor="black", linewidth=0.8,
    ticks="outside", ticklen=2, tickwidth=0.8, tickcolor="black",
    tickfont=dict(size=6, color=TXT, family=FONT), automargin=False,
)
title_font = dict(size=6.6, color=TXT, family=FONT)

for s, sid in enumerate(SESSIONS):
    col = s // 10
    row = s % 10
    top = ROW_TOP0 + ROW_STEP * row
    y1 = 1 - top / H
    y0 = 1 - (top + PANEL_H) / H
    n = min(len(DEYE[s]), len(SIM_V1[s]), len(SIM_ALL[s]), len(DPUPIL[s]))
    dx = DEYE[s][:n]

    for p in range(4):
        k = s * 4 + p + 1
        x0 = PANEL_X0[col][p] / W
        x1 = (PANEL_X0[col][p] + PANEL_W) / W
        xa = dict(axis_common, domain=[x0, x1], anchor=ref("y", k))
        ya = dict(axis_common, domain=[y0, y1], anchor=ref("x", k))
        if p == 0:
            xa.update(range=[0, 20], dtick=10, tick0=0,
                      title=dict(text="Movie presentation #", font=title_font, standoff=2))
            ya.update(range=[-20, 20], dtick=10, tick0=-20,
                      title=dict(text="Shift in eye position", font=title_font, standoff=2))
        else:
            xa.update(range=[0, XMAX[s]], dtick=XDTICK[s], tick0=0,
                      title=dict(text="|ΔEye position|", font=title_font, standoff=2))
            if p in (1, 2):
                ya.update(range=[0.4, 1.1], dtick=0.2, tick0=0.4)
                if p == 1:
                    ya.update(title=dict(text="Setpoint sim.", font=title_font, standoff=2))
            else:
                ya.update(range=[0, PUPIL_YMAX[s]], dtick=PUPIL_DTICK[s], tick0=0,
                          title=dict(text="|ΔPupil width|", font=title_font, standoff=2))
        layout[axname("x", k)] = xa
        layout[axname("y", k)] = ya

    k0 = s * 4 + 1
    # 眼球位置トレース（ブロック間で途切れる）
    t = EYE_T[:10] + [None] + EYE_T[10:]
    ex = EYE_DX[s][:10] + [None] + EYE_DX[s][10:]
    ey = EYE_DY[s][:10] + [None] + EYE_DY[s][10:]
    fig.add_trace(go.Scatter(x=t, y=ex, mode="lines+markers", xaxis=ref("x", k0), yaxis=ref("y", k0),
                             line=dict(color=GRAY, width=0.8),
                             marker=dict(symbol="circle-open", size=3, color=GRAY, line=dict(width=0.7)),
                             showlegend=False, connectgaps=False))
    fig.add_trace(go.Scatter(x=t, y=ey, mode="lines+markers", xaxis=ref("x", k0), yaxis=ref("y", k0),
                             line=dict(color=VIOLET, width=1.2),
                             marker=dict(symbol="circle", size=2.5, color=VIOLET),
                             showlegend=False, connectgaps=False))

    # 散布図と回帰直線
    xe = FIT_XEND[s]
    for p, ys, fit in ((1, SIM_V1[s][:n], FIT_V1[s]), (2, SIM_ALL[s][:n], FIT_ALL[s]),
                       (3, DPUPIL[s][:n], FIT_PUPIL[s])):
        k = s * 4 + p + 1
        if p < 3:
            mk = dict(symbol="circle-open", size=4, color="rgba(55,55,55,0.8)", line=dict(width=0.7))
        else:
            mk = dict(symbol="circle", size=2, color="black")
        fig.add_trace(go.Scatter(x=dx, y=ys, mode="markers", marker=mk,
                                 xaxis=ref("x", k), yaxis=ref("y", k), showlegend=False, cliponaxis=True))
        fig.add_trace(go.Scatter(x=[0, xe], y=fit, mode="lines", line=dict(color=RED, width=1.2),
                                 xaxis=ref("x", k), yaxis=ref("y", k), showlegend=False))

    # タイトル
    for p, text in ((0, f"Session #{sid}"), (1, "V1 units"), (2, "All units")):
        k = s * 4 + p + 1
        annotations.append(dict(text=text, xref=f"{ref('x', k)} domain", yref=f"{ref('y', k)} domain",
                                x=0.5, y=1.0, xanchor="center", yanchor="bottom", showarrow=False,
                                font=dict(size=6.8, color="black", family=FONT)))

    # R² ラベル
    for p, val in ((1, R2_V1[s]), (2, R2_ALL[s])):
        k = s * 4 + p + 1
        annotations.append(dict(text=f"R<sup>2</sup>: {val:g}", xref=f"{ref('x', k)} domain",
                                yref=f"{ref('y', k)} domain", x=0.02, y=0.0, xanchor="left",
                                yanchor="bottom", showarrow=False,
                                font=dict(size=6.5, color=RED, family=FONT)))
    if R2_PUPIL[s] is not None:
        k = s * 4 + 4
        annotations.append(dict(text=f"R<sup>2</sup>: {R2_PUPIL[s]:g}", xref=f"{ref('x', k)} domain",
                                yref=f"{ref('y', k)} domain", x=1.27, y=0.93, xanchor="right",
                                yanchor="middle", showarrow=False,
                                font=dict(size=6.5, color=RED, family=FONT)))

    # 凡例（ΔX / ΔY）
    xr = f"{ref('x', k0)} domain"
    yr = f"{ref('y', k0)} domain"
    for yy, colr, lab, sym_open in ((0.88, GRAY, "ΔX", True), (0.80, VIOLET, "ΔY", False)):
        shapes.append(dict(type="line", xref=xr, yref=yr, x0=0.54, x1=0.70, y0=yy, y1=yy,
                           line=dict(color=colr, width=0.9 if sym_open else 1.2)))
        shapes.append(dict(type="circle", xref=xr, yref=yr, x0=0.595, x1=0.645,
                           y0=yy - 0.022, y1=yy + 0.022,
                           line=dict(color=colr, width=0.7),
                           fillcolor="white" if sym_open else colr))
        annotations.append(dict(text=lab, xref=xr, yref=yr, x=0.74, y=yy, xanchor="left",
                                yanchor="middle", showarrow=False,
                                font=dict(size=6.2, color=TXT, family=FONT)))

fig.update_layout(
    width=W, height=H,
    margin=dict(l=0, r=0, t=0, b=0),
    paper_bgcolor="white", plot_bgcolor="white",
    font=dict(family=FONT, size=6.5, color=TXT),
    showlegend=False,
    annotations=annotations,
    shapes=shapes,
    **layout,
)

# ページ本体の余白を消して図を左上に合わせる（ツールバーも非表示）
fig.write_html("out.html",
               config={"displayModeBar": False},
               post_script="document.body.style.margin='0';document.body.style.overflow='hidden';")
